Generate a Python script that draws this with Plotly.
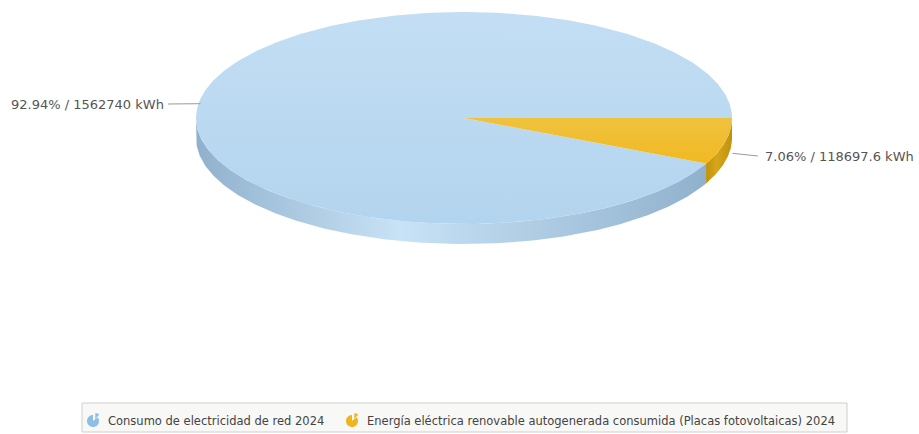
import numpy as np
import plotly.graph_objects as go

# ---- data ----
categories = ["Consumo de electricidad de red 2024",
              "Energía eléctrica renovable autogenerada consumida (Placas fotovoltaicas) 2024"]
values = [1562740, 118697.6]
units = "kWh"
top_colors = ["#b3d4ee", "#f1b922"]
top_colors2 = ["#c3def4", "#efc23e"]
side_dark = ["#90b1cd", "#c0910c"]
side_light = ["#c8e2f6", "#d7a61a"]

W, H = 919, 434
cx, cy, rx, ry, depth = 464, 118, 268, 106, 20

total = sum(values)
pcts = [v / total * 100 for v in values]

def fmt(v):
    s = f"{v:.2f}".rstrip("0").rstrip(".")
    return s

starts = {}
a = 0.0
for i in [1, 0]:
    span = values[i] / total * 360
    starts[i] = (a, a + span)
    a += span

def ell(t):
    r = np.radians(t)
    return cx + rx * np.cos(r), cy + ry * np.sin(r)

fig = go.Figure()

# sides (visible front half)
for i in [0, 1]:
    a0, a1 = starts[i]
    lo, hi = max(a0, 0), min(a1, 180)
    if hi <= lo:
        continue
    t = np.linspace(lo, hi, 200)
    x, y = ell(t)
    xs = np.concatenate([x, x[::-1], [x[0]]])
    ys = np.concatenate([y, (y + depth)[::-1], [y[0]]])
    fig.add_trace(go.Scatter(
        x=xs, y=ys, mode="lines", fill="toself", line=dict(width=0),
        fillgradient=dict(type="horizontal",
                          colorscale=[[0, side_dark[i]], [0.4, side_light[i]], [1, side_dark[i]]]),
        hoverinfo="skip", showlegend=False))

# tops
for i in [0, 1]:
    a0, a1 = starts[i]
    t = np.linspace(a0, a1, 400)
    x, y = ell(t)
    xs = np.concatenate([[cx], x, [cx]])
    ys = np.concatenate([[cy], y, [cy]])
    fig.add_trace(go.Scatter(
        x=xs, y=ys, mode="lines", fill="toself", line=dict(width=0),
        fillgradient=dict(type="vertical",
                          colorscale=[[0, top_colors[i]], [1, top_colors2[i]]]),
        hoverinfo="skip", showlegend=False))

# labels with connector lines
for i in [0, 1]:
    a0, a1 = starts[i]
    mid = (a0 + a1) / 2
    px, py = ell(mid)
    if np.cos(np.radians(mid)) < 0:
        px, py = px - 2, py + 9
        lx, ly = 168, 104
        side = "right"
        tx = lx - 2
    else:
        px, py = px + 7, py + 12
        lx, ly = 758, 156
        side = "left"
        tx = lx + 5
    fig.add_trace(go.Scatter(x=[px, lx], y=[py, ly], mode="lines",
                             line=dict(color="#9a9a9a", width=1),
                             hoverinfo="skip", showlegend=False))
    fig.add_annotation(x=tx, y=ly, xref="x", yref="y", showarrow=False,
                       xanchor=side, yanchor="middle",
                       text=f"{pcts[i]:.2f}% / {fmt(values[i])} {units}",
                       font=dict(family="DejaVu Sans, Verdana", size=13, color="#555555"))

# legend box
fig.add_shape(type="rect", x0=82, x1=847, y0=403, y1=432, xref="x", yref="y",
              line=dict(color="#cfcfcf", width=1), fillcolor="#f8f8f6", layer="below")

def icon(xc, yc, color, r=6):
    t = np.radians(np.linspace(-40, 270, 40))
    pts = [(xc + r * np.cos(tt), yc + r * np.sin(tt)) for tt in t]
    p = f"M {xc},{yc} " + " ".join(f"L {px:.2f},{py:.2f}" for px, py in pts) + " Z"
    fig.add_shape(type="path", path=p, xref="x", yref="y",
                  fillcolor=color, line=dict(width=0))
    t2 = np.radians(np.linspace(-85, -45, 12))
    ox, oy = 2.0, -2.0
    pts2 = [(xc + ox + r * np.cos(tt), yc + oy + r * np.sin(tt)) for tt in t2]
    p2 = f"M {xc+ox},{yc+oy} " + " ".join(f"L {px:.2f},{py:.2f}" for px, py in pts2) + " Z"
    fig.add_shape(type="path", path=p2, xref="x", yref="y",
                  fillcolor=color, line=dict(width=0))

leg_x = [93, 352]
icon_colors = ["#8fbde6", "#f0b51c"]
for i in [0, 1]:
    icon(leg_x[i], 421, icon_colors[i])
    fig.add_annotation(x=leg_x[i] + 13, y=421, xref="x", yref="y", showarrow=False,
                       xanchor="left", yanchor="middle", text=categories[i],
                       font=dict(family="DejaVu Sans, Verdana", size=11.5, color="#444444"))

fig.update_layout(
    width=W, height=H, autosize=False,
    margin=dict(l=0, r=0, t=0, b=0),
    paper_bgcolor="white", plot_bgcolor="white",
    xaxis=dict(range=[0, W], visible=False, fixedrange=True),
    yaxis=dict(range=[H, 0], visible=False, fixedrange=True),
    showlegend=False,
)
fig.write_html("out.html", config={"displayModeBar": False},
               post_script="document.body.style.margin='0';document.body.style.overflow='hidden';")
